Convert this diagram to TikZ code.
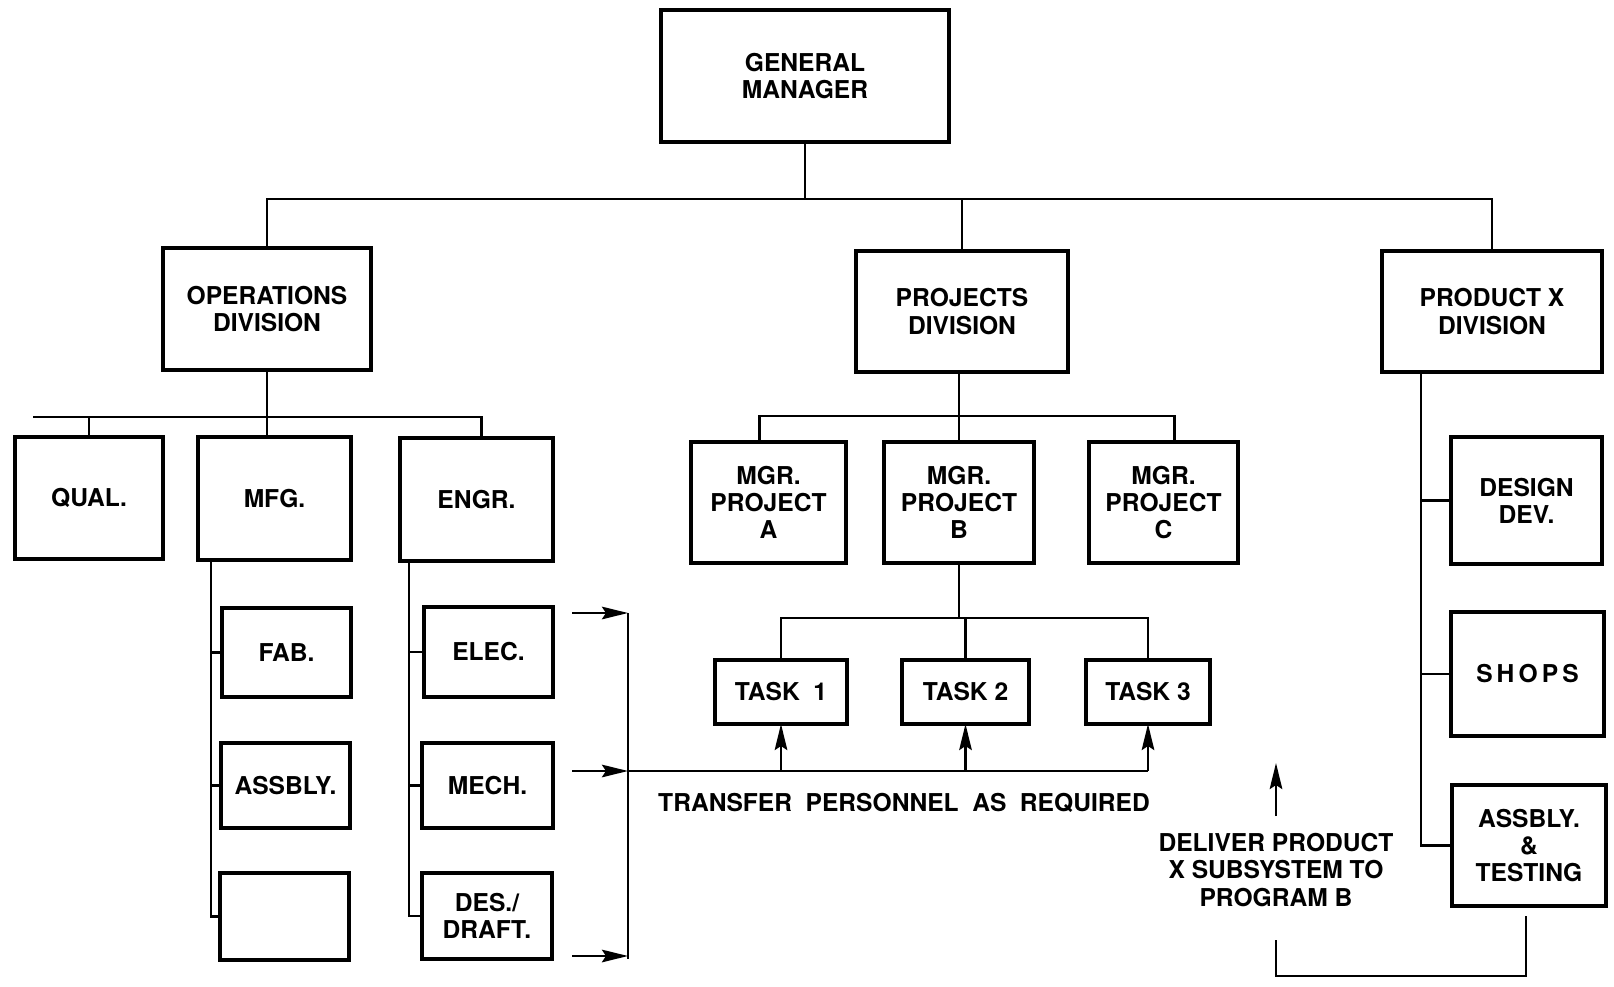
\documentclass[tikz,border=0pt]{standalone}
\usepackage{fontspec}
\setmainfont{TeX Gyre Heros}
\usetikzlibrary{calc,arrows.meta}

% one unit = 0.02cm, y grows downwards
\tikzset{
  ob/.style={draw, line width=2.1pt, inner sep=0pt, outer sep=0pt, align=center,
             font=\bfseries\fontsize{14}{15.5}\selectfont},
  cn/.style={line width=1.5pt, line cap=butt},
  ar/.style={cn, -{Stealth[length=0.52cm, width=0.25cm, inset=0.08cm]}},
  lbl/.style={align=center, inner sep=0pt, font=\bfseries\fontsize{14}{15.5}\selectfont},
}
% box given by its corners: name, x1, y1, x2, y2, text
\newcommand\orgbox[6]{%
  \node[ob, minimum width={(#4-#2)*0.02cm}, minimum height={(#5-#3)*0.02cm}]
    (#1) at ({(#2+#4)/2},{(#3+#5)/2}) {#6};}

\begin{document}
\begin{tikzpicture}[x=0.02cm, y=-0.02cm]
\useasboundingbox (0,0) rectangle (1614,987);

% ---- boxes ----
\orgbox{gm}{661}{10}{949}{142}{GENERAL\\MANAGER}
\orgbox{ops}{163}{248}{371}{370}{OPERATIONS\\DIVISION}
\orgbox{proj}{856}{251}{1068}{372}{PROJECTS\\DIVISION}
\orgbox{prodx}{1382}{251}{1602}{372}{PRODUCT X\\DIVISION}

\orgbox{qual}{15}{437}{163}{559}{QUAL.}
\orgbox{mfg}{198}{437}{351}{560}{MFG.}
\orgbox{engr}{400}{438}{553}{561}{ENGR.}

\orgbox{fab}{222}{608}{351}{697}{FAB.}
\orgbox{assb}{221}{743}{350}{828}{ASSBLY.}
\orgbox{blank}{220}{873}{349}{960}{}

\orgbox{elec}{424}{607}{553}{697}{ELEC.}
\orgbox{mech}{422}{743}{553}{828}{MECH.}
\orgbox{des}{422}{873}{552}{959}{DES./\\DRAFT.}

\orgbox{mgrA}{691}{442}{846}{563}{MGR.\\PROJECT\\A}
\orgbox{mgrB}{884}{442}{1034}{563}{MGR.\\PROJECT\\B}
\orgbox{mgrC}{1089}{442}{1238}{563}{MGR.\\PROJECT\\C}

\orgbox{t1}{715}{660}{847}{724}{TASK\hspace{0.55em}1}
\orgbox{t2}{902}{660}{1029}{724}{TASK 2}
\orgbox{t3}{1086}{660}{1210}{724}{TASK 3}

\orgbox{dd}{1451}{437}{1602}{564}{DESIGN\\DEV.}
\orgbox{shops}{1451}{612}{1604}{736}{S\,H\,O\,P\,S}
\orgbox{at}{1452}{785}{1606}{906}{ASSBLY.\\\&\\TESTING}

% ---- texts ----
\node[lbl] (transfer) at (904,803)
  {TRANSFER\hspace{0.55em}PERSONNEL\hspace{0.55em}AS\hspace{0.55em}REQUIRED};
\node[lbl] (deliver) at (1276,870) {DELIVER PRODUCT\\X SUBSYSTEM TO\\PROGRAM B};

% ---- top level ----
\coordinate (topbus) at (0,199);
\draw[cn] (gm.south) -- (gm.south |- topbus);
\draw[cn] (ops.north) |- (topbus -| prodx.north) -- (prodx.north);
\draw[cn] (proj.north) -- (proj.north |- topbus);

% ---- operations division ----
\coordinate (obus) at (33,417);
\coordinate (engrdrop) at ($(engr.north)+(5,0)$);
\draw[cn] (ops.south) -- (ops.south |- mfg.north);
\draw[cn] (obus) -- (obus -| engrdrop) -- (engrdrop);
\draw[cn] (qual.north) -- (qual.north |- obus);

\coordinate (mspine) at ($(mfg.south west)+(13,0)$);
\draw[cn] (mspine) |- (blank.west);
\draw[cn] (mspine |- fab.west) -- (fab.west);
\draw[cn] (mspine |- assb.west) -- (assb.west);

\coordinate (espine) at ($(engr.south west)+(9,0)$);
\draw[cn] (espine) |- (des.west);
\draw[cn] (espine |- elec.west) -- (elec.west);
\draw[cn] (espine |- mech.west) -- (mech.west);

% ---- transfer of personnel ----
\coordinate (brT) at (628,613);
\coordinate (brM) at (628,771);
\coordinate (brB) at (628,959);
\coordinate (aT) at (572,613);
\coordinate (aM) at (572,771);
\coordinate (aB) at (572,956);
\draw[cn] (brT) -- (brB);
\draw[ar] (aT) -- (brT);
\draw[ar] (aM) -- (brM);
\draw[ar] (aB) -- (aB -| brT);
\draw[cn] (brM) -- (brM -| t3.south);
\draw[ar] (brM -| t1.south) -- (t1.south);
\draw[ar] (brM -| t2.south) -- (t2.south);
\draw[ar] (brM -| t3.south) -- (t3.south);

% ---- projects division ----
\coordinate (pbus) at (0,416);
\coordinate (adrop) at ($(mgrA.north)+(-9,0)$);
\coordinate (cdrop) at ($(mgrC.north)+(11,0)$);
\draw[cn] (proj.south -| mgrB.north) -- (mgrB.north);
\draw[cn] (adrop) |- (pbus -| cdrop) -- (cdrop);

\coordinate (tbus) at (0,618);
\draw[cn] (mgrB.south) -- (mgrB.south |- tbus);
\draw[cn] (t1.north) |- (tbus -| t3.north) -- (t3.north);
\draw[cn] (t2.north) -- (t2.north |- tbus);

% ---- product x division ----
\coordinate (xspine) at ($(prodx.south west)+(39,0)$);
\draw[cn] (xspine) |- (at.west);
\draw[cn] (xspine |- dd.west) -- (dd.west);
\draw[cn] (xspine |- shops.west) -- (shops.west);

% ---- delivery to program B ----
\coordinate (atout) at ($(at.south)+(-3,10)$);
\coordinate (dvlow) at (1276,976);
\coordinate (dvend) at (1276,940);
\draw[cn] (atout) |- (dvlow) -- (dvend);
\coordinate (dvA) at (1276,816);
\coordinate (dvB) at (1276,763);
\draw[ar] (dvA) -- (dvB);
\end{tikzpicture}
\end{document}
